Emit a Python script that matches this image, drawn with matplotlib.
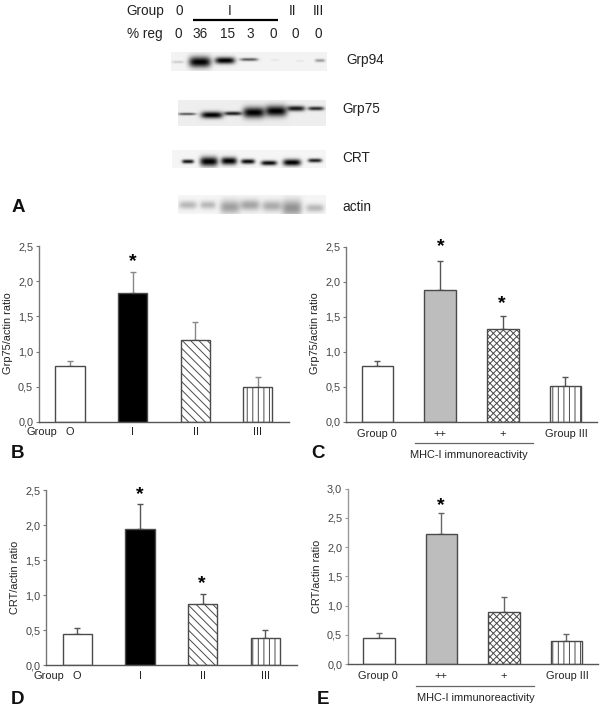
"""Western blots and Grp75/CRT actin ratio bar panels."""
import matplotlib
matplotlib.use("Agg")
import matplotlib.pyplot as plt
import numpy as np

plt.rcParams["font.family"] = ["Liberation Sans", "DejaVu Sans"]
plt.rcParams["hatch.linewidth"] = 0.7

W, H = 600, 716

# bar values and top of the error bars
b_vals = [0.80, 1.83, 1.17, 0.50]
b_tops = [0.86, 2.14, 1.42, 0.64]
c_vals = [0.80, 1.88, 1.32, 0.51]
c_tops = [0.86, 2.29, 1.51, 0.64]
d_vals = [0.44, 1.94, 0.88, 0.39]
d_tops = [0.53, 2.30, 1.02, 0.50]
e_vals = [0.44, 2.22, 0.89, 0.39]
e_tops = [0.53, 2.58, 1.14, 0.51]

group_labels = ["O", "I", "II", "III"]
mhc_labels = ["Group 0", "++", "+", "Group III"]
ticks_25 = ["0,0", "0,5", "1,0", "1,5", "2,0", "2,5"]
ticks_30 = ["0,0", "0,5", "1,0", "1,5", "2,0", "2,5", "3,0"]

header_groups = ["0", "I", "II", "III"]
header_regs = ["0", "36", "15", "3", "0", "0", "0"]

# blot bands: x, y, half width, half height, darkness (pixels)
grp94_bands = [(178, 62, 6, 1, 0.15), (200, 62, 11, 4, 1.0), (225, 60.5, 10, 2.5, 1.0),
               (249, 59.5, 9, 1.2, 0.6), (275, 60, 4, 0.8, 0.05), (300, 61, 4, 0.8, 0.05),
               (320, 60.5, 5, 1.2, 0.35)]
grp75_bands = [(187, 114, 9, 1, 0.6), (212, 115, 11, 2.5, 1.0), (233, 113.5, 9, 1.5, 0.85),
               (254, 112.5, 11, 4, 1.0), (276, 111, 11, 4, 1.0), (296, 108.5, 9, 2, 0.9),
               (316, 108.5, 8, 1.5, 0.8)]
crt_bands = [(188, 161.5, 6, 1.5, 0.9), (209, 161.5, 9, 3.5, 1.0), (229, 161, 8, 2.8, 1.0),
             (248, 161.5, 7, 1.8, 0.95), (269, 163, 8, 1.8, 0.95), (292, 162.5, 9, 2.5, 1.0),
             (315, 160.5, 7, 1.5, 0.85)]
actin_bands = [(188, 205, 9, 3, 0.25), (208, 205, 8, 3, 0.25), (230, 207, 10, 5, 0.35),
               (250, 205, 10, 4, 0.33), (272, 206, 10, 4, 0.3), (292, 208, 10, 6, 0.4),
               (315, 208, 9, 3, 0.25)]


def draw_blot(ov, bands, x0, x1, y0, y1, bg):
    xx, yy = np.meshgrid(np.arange(x0, x1) + 0.5, np.arange(y0, y1) + 0.5)
    img = np.full(xx.shape, bg, dtype=float)
    for bx, by, hw, hh, dark in bands:
        blob = np.exp(-((xx - bx) / hw) ** 4 - ((yy - by) / (hh * 1.35)) ** 2)
        img *= 1 - dark * blob
    ov.imshow(img, extent=(x0, x1, y1, y0), cmap="gray", vmin=0, vmax=1,
              aspect="auto", interpolation="bilinear", zorder=1)


def bar_panel(fig, box, vals, tops, ymax, ticklabels, width, colors, hatches, axis_color, err_color):
    left, right, top, bottom = box
    ax = fig.add_axes([left / W, 1 - bottom / H, (right - left) / W, (bottom - top) / H])
    ax.patch.set_alpha(0)
    x = np.arange(len(vals))
    errs = [t - v for t, v in zip(tops, vals)]
    ax.errorbar(x, vals, yerr=[[0] * len(vals), errs], fmt="none", ecolor=err_color,
                elinewidth=1.0, capsize=2.5, capthick=1.0, zorder=1)
    for xi, v, c, h in zip(x, vals, colors, hatches):
        ax.bar(xi, v, width=width, facecolor=c, edgecolor="#4a4a4a", linewidth=1.0,
               hatch=h, zorder=2)
    ax.set_xlim(-0.5, 3.5)
    ax.set_ylim(0, ymax)
    ax.set_xticks([])
    ax.set_yticks(np.arange(len(ticklabels)) * 0.5)
    ax.set_yticklabels(ticklabels, fontsize=7.8, color="#444444")
    ax.tick_params(axis="y", length=2.5, width=0.8, color=axis_color, pad=1.5)
    ax.spines["top"].set_visible(False)
    ax.spines["right"].set_visible(False)
    ax.spines["left"].set_color(axis_color)
    ax.spines["bottom"].set_color("#555555")
    ax.spines["left"].set_linewidth(1.0)
    ax.spines["bottom"].set_linewidth(1.0)
    return ax


def star(ov, x, y):
    # baseline sits below the glyph, which rides high in the em box
    ov.text(x, y + 11, "*", fontsize=14, fontweight="bold", ha="center", va="baseline")


def main():
    fig = plt.figure(figsize=(W / 100, H / 100), dpi=100, facecolor="white")

    ov = fig.add_axes([0, 0, 1, 1], zorder=5)
    ov.patch.set_alpha(0)
    ov.axis("off")

    draw_blot(ov, grp94_bands, 171, 327, 52, 71, 0.95)
    draw_blot(ov, grp75_bands, 178, 326, 100, 126, 0.93)
    draw_blot(ov, crt_bands, 172, 326, 150, 168, 0.96)
    draw_blot(ov, actin_bands, 178, 326, 195, 214, 0.96)
    ov.set_xlim(0, W)
    ov.set_ylim(H, 0)

    tx = dict(ha="center", va="center", color="#222222")
    ov.text(145, 11, "Group", fontsize=9.8, **tx)
    ov.text(145, 34, "% reg", fontsize=9.8, **tx)
    for xp, s in zip([179, 230, 293, 318], header_groups):
        ov.text(xp, 11, s, fontsize=9.8, **tx)
    for xp, s in zip([178, 200, 228, 250, 273, 295, 318], header_regs):
        ov.text(xp, 34, s, fontsize=9.8, **tx)
    ov.plot([193, 278], [20, 20], color="black", lw=1.6, solid_capstyle="butt")
    for xp, yp, s in [(346, 60, "Grp94"), (342, 109, "Grp75"), (342, 158, "CRT"), (342, 207, "actin")]:
        ov.text(xp, yp, s, fontsize=9.8, ha="left", va="center", color="#222222")

    fills_g = ["white", "black", "white", "white"]
    hatch_g = ["", "", "\\\\\\\\", "|||"]
    fills_m = ["white", "#bdbdbd", "white", "white"]
    hatch_m = ["", "", "xxxxx", "|||"]

    bar_panel(fig, (38.7, 289, 246.3, 421.7), b_vals, b_tops, 2.5, ticks_25, 0.467,
              fills_g, hatch_g, "#777777", "#888888")
    bar_panel(fig, (346, 596.7, 246.7, 421.7), c_vals, c_tops, 2.5, ticks_25, 0.505,
              fills_m, hatch_m, "#777777", "#555555")
    bar_panel(fig, (46, 296.7, 490, 665.3), d_vals, d_tops, 2.5, ticks_25, 0.47,
              fills_g, hatch_g, "#777777", "#555555")
    bar_panel(fig, (347.7, 597.7, 488.7, 664), e_vals, e_tops, 3.0, ticks_30, 0.505,
              fills_m, hatch_m, "#999999", "#666666")

    small = dict(fontsize=7.9, ha="center", va="center", color="#222222")
    for xp, s in zip([70, 133, 196, 258], group_labels):
        ov.text(xp, 432, s, **small)
    ov.text(42, 432, "Group", **small)
    for xp, s in zip([77, 140, 203, 266], group_labels):
        ov.text(xp, 676, s, **small)
    ov.text(49, 676, "Group", **small)
    for xp, s in zip([377, 440, 503, 566], mhc_labels):
        ov.text(xp, 434, s, **small)
    for xp, s in zip([378, 441, 504, 567], mhc_labels):
        ov.text(xp, 676, s, **small)

    ov.plot([415, 533], [443.3, 443.3], color="#666666", lw=0.9)
    ov.plot([416, 534], [686, 686], color="#666666", lw=0.9)
    ov.text(469, 455, "MHC-I immunoreactivity", **small)
    ov.text(476, 698, "MHC-I immunoreactivity", **small)

    for xp, yp, s in [(8, 333, "Grp75/actin ratio"), (315, 333, "Grp75/actin ratio"),
                      (15, 577, "CRT/actin ratio"), (317, 576, "CRT/actin ratio")]:
        ov.text(xp, yp, s, rotation=90, **small)

    for xp, yp in [(133, 254.7), (441, 240), (502, 297), (140, 488), (202, 577), (441, 499)]:
        star(ov, xp, yp)

    for xp, yp, s in [(18, 207, "A"), (18, 453, "B"), (318, 454, "C"), (18, 700, "D"), (323, 700, "E")]:
        ov.text(xp, yp, s, fontsize=13.5, fontweight="bold", ha="center", va="center", color="#111111")

    fig.savefig("out.png", dpi=100)


if __name__ == "__main__":
    main()
